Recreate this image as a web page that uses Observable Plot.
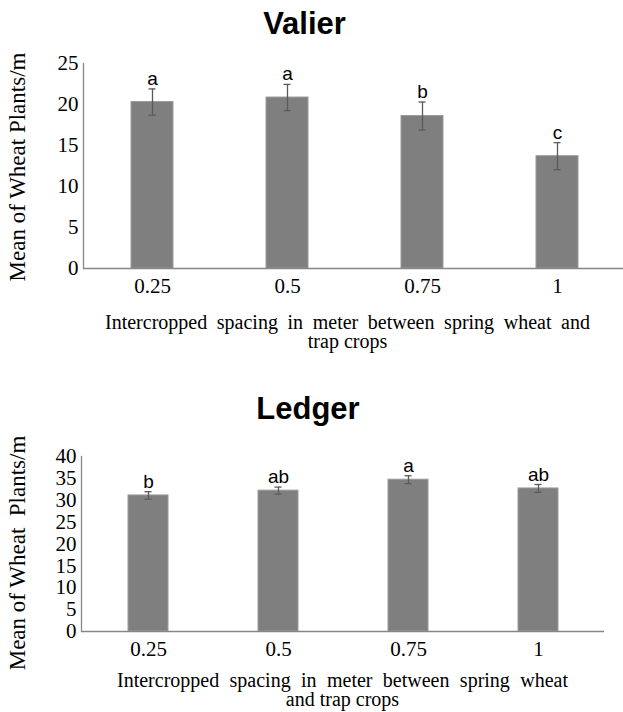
<!DOCTYPE html>
<html><head><meta charset="utf-8">
<script src="https://cdn.jsdelivr.net/npm/d3@7"></script>
<script src="https://cdn.jsdelivr.net/npm/@observablehq/plot@0.6"></script>
<style>
body{margin:0;background:#fff;}
#wrap{position:relative;width:623px;height:712px;overflow:hidden;background:#fff;}
.title{position:absolute;font-family:"Liberation Sans",Arial,sans-serif;font-weight:bold;font-size:31px;line-height:31px;transform:translateX(-50%);white-space:nowrap;color:#000;}
.xlab{position:absolute;font-family:"Liberation Serif","Times New Roman",serif;color:#000;font-size:20px;line-height:19px;text-align:justify;text-align-last:center;}
.ylab{position:absolute;font-family:"Liberation Serif","Times New Roman",serif;font-size:23px;line-height:22px;color:#000;white-space:pre;transform:translate(-50%,-50%) rotate(-90deg);}
.chart{position:absolute;left:0;}
</style></head>
<body><div id="wrap"></div>
<script>
const spacing = ["0.25", "0.5", "0.75", "1"];
const valierMean = [20.3, 20.85, 18.6, 13.7];
const valierErr = [1.6, 1.6, 1.7, 1.65];
const valierLetters = ["a", "a", "b", "c"];
const valierTicks = [0, 5, 10, 15, 20, 25];
const ledgerMean = [31.1, 32.2, 34.7, 32.7];
const ledgerErr = [0.85, 0.8, 0.9, 0.9];
const ledgerLetters = ["b", "ab", "a", "ab"];
const ledgerTicks = [0, 5, 10, 15, 20, 25, 30, 35, 40];

const wrap = document.getElementById("wrap");

function chart(o) {
  const data = spacing.map((s, i) => ({s, m: o.mean[i], e: o.err[i], l: o.letters[i]}));
  const serif = "Liberation Serif, Times New Roman, serif";
  return Plot.plot({
    width: 623, height: o.height,
    marginLeft: o.ml, marginRight: o.mr, marginTop: o.mt, marginBottom: o.mb,
    style: {fontFamily: serif, fontSize: "21px", color: "#000", background: "transparent", overflow: "visible"},
    x: {domain: spacing, paddingInner: o.pad, paddingOuter: o.pad / 2, label: null},
    y: {domain: [0, o.yMax], label: null},
    marks: [
      Plot.barY(data, {x: "s", y: "m", fill: "#7f7f7f", stroke: "#9c9c9c", strokeWidth: 1}),
      Plot.ruleX(data, {x: "s", y1: d => d.m - d.e, y2: d => d.m + d.e, stroke: "#5a5a5a", strokeWidth: 1.3}),
      Plot.tickY(data, {x: "s", y: d => d.m + d.e, stroke: "#5a5a5a", strokeWidth: 1.3, inset: o.cap}),
      Plot.tickY(data, {x: "s", y: d => d.m - d.e, stroke: "#5a5a5a", strokeWidth: 1.3, inset: o.cap}),
      Plot.text(data, {x: "s", y: d => d.m + d.e, text: "l", lineAnchor: "bottom", dy: -4,
        fontFamily: "Liberation Sans, Arial, sans-serif", fontSize: 19, fill: "#000"}),
      Plot.axisY({ticks: o.ticks, tickSize: 0, tickPadding: 5, label: null, fontSize: 21, fontFamily: serif, fill: "#000"}),
      Plot.axisX({tickSize: 0, tickPadding: 10, label: null, fontSize: 21, fontFamily: serif, fill: "#000"}),
      Plot.ruleY([0], {stroke: "#868686", strokeWidth: 1.3}),
      Plot.frame({anchor: "left", stroke: "#868686", strokeWidth: 1.3})
    ]
  });
}

function place(el, top) {
  el.classList.add("chart");
  el.style.top = top + "px";
  wrap.appendChild(el);
}

function addDiv(cls, text, css) {
  const d = document.createElement("div");
  d.className = cls;
  d.textContent = text;
  Object.assign(d.style, css);
  wrap.appendChild(d);
  return d;
}

// Valier
addDiv("title", "Valier", {left: "304.5px", top: "8px"});
place(chart({mean: valierMean, err: valierErr, letters: valierLetters, yMax: 25, ticks: valierTicks,
  height: 265, ml: 83, mr: -3, mt: 23, mb: 37, pad: 0.69, cap: 17.5}), 40);
addDiv("ylab", "Mean of Wheat Plants/m", {left: "18px", top: "167px"});
addDiv("xlab", "Intercropped spacing in meter between spring wheat and trap\u00a0crops",
  {left: "105px", top: "313px", width: "485px"});

// Ledger
addDiv("title", "Ledger", {left: "308px", top: "393px"});
place(chart({mean: ledgerMean, err: ledgerErr, letters: ledgerLetters, yMax: 40, ticks: ledgerTicks,
  height: 225, ml: 81, mr: 19, mt: 16, mb: 34, pad: 0.693, cap: 16.5}), 440);
addDiv("ylab", "Mean of Wheat  Plants/m", {left: "18px", top: "553px"});
addDiv("xlab", "Intercropped spacing in meter between spring wheat and\u00a0trap\u00a0crops",
  {left: "117px", top: "671px", width: "451px"});
</script></body></html>
